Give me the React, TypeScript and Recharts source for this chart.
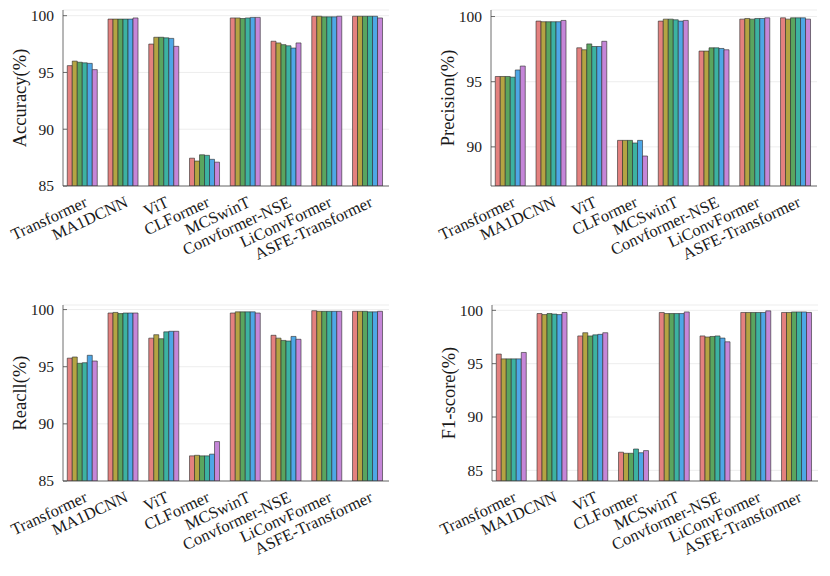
import React from 'react';
import { BarChart, Bar, XAxis, YAxis, CartesianGrid } from 'recharts';

const categories = [
  'Transformer',
  'MA1DCNN',
  'ViT',
  'CLFormer',
  'MCSwinT',
  'Convformer-NSE',
  'LiConvFormer',
  'ASFE-Transformer',
];

const seriesColors = ['#E4817F', '#B4A443', '#5AA55F', '#3CB2A2', '#4EA7E6', '#C586D8'];

// one row per category, six bars per row
const accuracyValues = [
  [95.6, 96.0, 95.9, 95.85, 95.8, 95.25],
  [99.7, 99.7, 99.7, 99.7, 99.7, 99.8],
  [97.5, 98.1, 98.1, 98.05, 98.0, 97.3],
  [87.45, 87.2, 87.75, 87.7, 87.35, 87.1],
  [99.8, 99.8, 99.75, 99.8, 99.85, 99.85],
  [97.75, 97.6, 97.45, 97.35, 97.15, 97.6],
  [99.95, 99.95, 99.9, 99.9, 99.9, 99.95],
  [99.95, 99.95, 99.95, 99.95, 99.95, 99.8],
];

const precisionValues = [
  [95.4, 95.4, 95.4, 95.35, 95.9, 96.2],
  [99.65, 99.6, 99.6, 99.6, 99.6, 99.7],
  [97.6, 97.45, 97.9, 97.7, 97.7, 98.1],
  [90.5, 90.5, 90.5, 90.3, 90.5, 89.3],
  [99.65, 99.8, 99.8, 99.75, 99.65, 99.7],
  [97.35, 97.35, 97.6, 97.6, 97.55, 97.45],
  [99.8, 99.85, 99.8, 99.85, 99.85, 99.9],
  [99.9, 99.8, 99.9, 99.9, 99.9, 99.8],
];

const recallValues = [
  [95.75, 95.85, 95.3, 95.35, 96.0, 95.5],
  [99.7, 99.75, 99.65, 99.7, 99.7, 99.7],
  [97.5, 97.8, 97.45, 98.05, 98.1, 98.1],
  [87.2, 87.25, 87.2, 87.2, 87.35, 88.45],
  [99.7, 99.8, 99.8, 99.8, 99.8, 99.7],
  [97.75, 97.5, 97.3, 97.25, 97.65, 97.4],
  [99.9, 99.85, 99.85, 99.85, 99.85, 99.85],
  [99.85, 99.85, 99.85, 99.8, 99.8, 99.85],
];

const f1Values = [
  [95.9, 95.45, 95.45, 95.45, 95.45, 96.05],
  [99.7, 99.6, 99.7, 99.65, 99.6, 99.8],
  [97.6, 97.9, 97.6, 97.7, 97.75, 97.9],
  [86.7, 86.6, 86.6, 87.0, 86.65, 86.85],
  [99.8, 99.7, 99.7, 99.7, 99.7, 99.85],
  [97.6, 97.5, 97.55, 97.6, 97.4, 97.05],
  [99.8, 99.8, 99.8, 99.8, 99.8, 99.95],
  [99.8, 99.8, 99.85, 99.85, 99.85, 99.8],
];

const accuracyTicks = [85, 90, 95, 100];
const precisionTicks = [90, 95, 100];
const recallTicks = [85, 90, 95, 100];
const f1Ticks = [85, 90, 95, 100];

const FONT = '"Liberation Serif", "Times New Roman", serif';
const FRAME = '#4a4a4a';
const TEXT = '#1a1a1a';
const Y_MARGIN = 9;

function buildRows(values: number[][]) {
  return categories.map((name, i) => {
    const row: Record<string, any> = { name };
    values[i].forEach((v, j) => {
      row['s' + j] = v;
    });
    return row;
  });
}

const LeftTick = (props: any) => {
  const { x, y, payload } = props;
  const ax = x + Y_MARGIN;
  return (
    <g>
      <line x1={ax} x2={ax + 4} y1={y} y2={y} stroke={FRAME} strokeWidth={0.8} />
      <text x={x} y={y} dy="0.35em" textAnchor="end" fontFamily={FONT} fontSize={15.5} fill={TEXT}>
        {payload.value}
      </text>
    </g>
  );
};

const RightTick = (props: any) => {
  const { x, y } = props;
  return <line x1={x} x2={x - 4} y1={y} y2={y} stroke={FRAME} strokeWidth={0.8} />;
};

const TopTick = (props: any) => {
  const { x, y } = props;
  return <line x1={x} x2={x} y1={y} y2={y + 4} stroke={FRAME} strokeWidth={0.8} />;
};

const BottomTick = (props: any) => {
  const { x, y, payload } = props;
  const px = x + 5;
  const py = y + 20;
  return (
    <text
      x={px}
      y={py}
      textAnchor="end"
      transform={`rotate(-25, ${px}, ${py})`}
      fontFamily={FONT}
      fontSize={16.5}
      fill={TEXT}
    >
      {payload.value}
    </text>
  );
};

type PanelProps = {
  left: number;
  top: number;
  values: number[][];
  domain: [number, number];
  ticks: number[];
  label: string;
};

const Panel = ({ left, top, values, domain, ticks, label }: PanelProps) => {
  const data = buildRows(values);
  return (
    <div style={{ position: 'absolute', left, top, width: 415, height: 290 }}>
      <BarChart
        width={415}
        height={290}
        data={data}
        margin={{ top: 10, right: 26, left: 0, bottom: 0 }}
        barCategoryGap="10.5%"
        barGap={0}
      >
        <CartesianGrid vertical={false} stroke="#e9e9e9" strokeWidth={0.8} />
        <XAxis
          dataKey="name"
          interval={0}
          height={104}
          tickSize={0}
          tickMargin={0}
          tick={BottomTick}
          axisLine={{ stroke: FRAME, strokeWidth: 0.8 }}
          tickLine={false}
        />
        <XAxis
          xAxisId="top"
          dataKey="name"
          orientation="top"
          interval={0}
          height={0}
          tickSize={0}
          tickMargin={0}
          tick={TopTick}
          axisLine={{ stroke: FRAME, strokeWidth: 0.8 }}
          tickLine={false}
        />
        <YAxis
          width={63}
          domain={domain}
          ticks={ticks}
          allowDataOverflow
          tickSize={0}
          tickMargin={Y_MARGIN}
          tick={LeftTick}
          axisLine={{ stroke: FRAME, strokeWidth: 0.8 }}
          tickLine={false}
          label={{
            content: (p: any) => {
              const vb = p.viewBox || {};
              const cx = (vb.x ?? 0) + (vb.width ?? 63) - 43;
              const cy = (vb.y ?? 10) + (vb.height ?? 176) / 2;
              return (
                <text
                  x={cx}
                  y={cy}
                  textAnchor="middle"
                  dominantBaseline="central"
                  transform={`rotate(-90, ${cx}, ${cy})`}
                  fontFamily={FONT}
                  fontSize={18.5}
                  fill={TEXT}
                >
                  {label}
                </text>
              );
            },
          }}
        />
        <YAxis
          yAxisId="right"
          orientation="right"
          width={0}
          domain={domain}
          ticks={ticks}
          allowDataOverflow
          tickSize={0}
          tickMargin={0}
          tick={RightTick}
          axisLine={{ stroke: FRAME, strokeWidth: 0.8 }}
          tickLine={false}
        />
        {seriesColors.map((c, j) => (
          <Bar
            key={j}
            dataKey={'s' + j}
            fill={c}
            stroke="#2a2a2a"
            strokeWidth={0.6}
            isAnimationActive={false}
          />
        ))}
      </BarChart>
    </div>
  );
};

export default function App() {
  return (
    <div style={{ position: 'absolute', left: 0, top: 0, width: 830, height: 576, background: '#ffffff' }}>
      <Panel left={0} top={0} values={accuracyValues} domain={[85, 100.5]} ticks={accuracyTicks} label="Accuracy(%)" />
      <Panel left={428} top={0} values={precisionValues} domain={[87, 100.5]} ticks={precisionTicks} label="Precision(%)" />
      <Panel left={0} top={295} values={recallValues} domain={[85, 100.4]} ticks={recallTicks} label="Reacll(%)" />
      <Panel left={429} top={295} values={f1Values} domain={[84, 100.5]} ticks={f1Ticks} label="F1-score(%)" />
    </div>
  );
}
